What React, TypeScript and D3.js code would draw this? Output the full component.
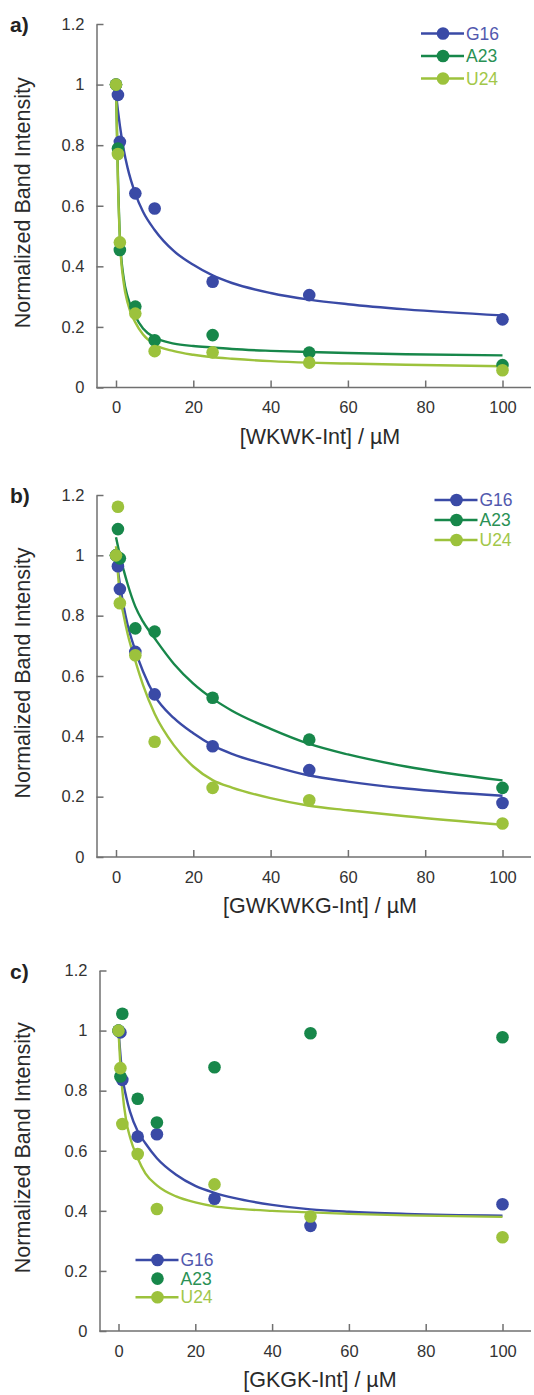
import React, { useEffect, useRef } from 'react';
import * as d3 from 'd3';

// peptide concentrations (µM) used for every titration
const concentrations = [0, 0.5, 1, 5, 10, 25, 50, 100];
const fitConcentrations = [0, 0.5, 1, 2, 3, 5, 7, 10, 15, 20, 25, 30, 40, 50, 60, 75, 100];

const seriesNames = ['G16', 'A23', 'U24'];
const xTickValues = [0, 20, 40, 60, 80, 100];
const yTickValues = [0, 0.2, 0.4, 0.6, 0.8, 1, 1.2];
const yTickLabels = ['0', '0.2', '0.4', '0.6', '0.8', '1', '1.2'];

// a) WKWK-Int
const aG16 = [1.0, 0.966, 0.811, 0.641, 0.591, 0.349, 0.305, 0.225];
const aA23 = [1.0, 0.789, 0.454, 0.267, 0.156, 0.173, 0.115, 0.074];
const aU24 = [1.0, 0.771, 0.479, 0.244, 0.12, 0.116, 0.082, 0.057];
const aG16Fit = [0.97, 0.915, 0.865, 0.785, 0.725, 0.64, 0.58, 0.52, 0.45, 0.405, 0.37, 0.345, 0.312, 0.29, 0.275, 0.258, 0.238];
const aA23Fit = [1.0, 0.7, 0.5, 0.36, 0.3, 0.235, 0.195, 0.165, 0.145, 0.137, 0.132, 0.127, 0.121, 0.117, 0.114, 0.11, 0.106];
const aU24Fit = [1.0, 0.68, 0.49, 0.345, 0.28, 0.215, 0.175, 0.142, 0.12, 0.108, 0.1, 0.095, 0.087, 0.082, 0.079, 0.075, 0.07];

// b) GWKWKG-Int
const bG16 = [1.0, 0.964, 0.888, 0.68, 0.539, 0.367, 0.288, 0.179];
const bA23 = [1.0, 1.087, 0.99, 0.758, 0.747, 0.528, 0.389, 0.229];
const bU24 = [1.0, 1.161, 0.841, 0.669, 0.382, 0.229, 0.188, 0.111];
const bG16Fit = [1.0, 0.95, 0.905, 0.83, 0.77, 0.685, 0.615, 0.535, 0.46, 0.41, 0.37, 0.342, 0.303, 0.27, 0.25, 0.227, 0.203];
const bA23Fit = [1.06, 1.03, 1.0, 0.95, 0.905, 0.83, 0.78, 0.725, 0.64, 0.575, 0.525, 0.485, 0.425, 0.375, 0.34, 0.3, 0.254];
const bU24Fit = [1.03, 0.94, 0.87, 0.8, 0.74, 0.65, 0.57, 0.475, 0.37, 0.3, 0.255, 0.23, 0.195, 0.17, 0.155, 0.135, 0.107];

// c) GKGK-Int (A23 has no fit)
const cG16 = [1.0, 0.994, 0.836, 0.647, 0.655, 0.44, 0.35, 0.422];
const cA23 = [1.0, 0.847, 1.056, 0.773, 0.694, 0.878, 0.991, 0.978];
const cU24 = [1.0, 0.875, 0.689, 0.589, 0.406, 0.488, 0.381, 0.312];
const cG16Fit = [1.0, 0.92, 0.85, 0.78, 0.73, 0.665, 0.625, 0.575, 0.52, 0.483, 0.46, 0.443, 0.42, 0.405, 0.397, 0.39, 0.384];
const cU24Fit = [1.0, 0.88, 0.8, 0.7, 0.645, 0.575, 0.525, 0.485, 0.448, 0.428, 0.415, 0.408, 0.4, 0.395, 0.39, 0.385, 0.38];

const COLORS = ['#3a4aa6', '#17874a', '#9cc23c'];
const LEGEND_TEXT = ['#5259ae', '#2a9155', '#a2c749'];
const FONT = "'Liberation Sans', Arial, sans-serif";

const panels = [
  {
    tag: 'a)', xLabel: '[WKWK-Int] / µM',
    top: 24, bottom: 387.5, axisX: 96.5, x0: 116, x1: 502.5,
    points: [aG16, aA23, aU24], fits: [aG16Fit, aA23Fit, aU24Fit],
    legend: { x: 443, y: 33.5, step: 22.5, lines: [true, true, true] },
  },
  {
    tag: 'b)', xLabel: '[GWKWKG-Int] / µM',
    top: 495, bottom: 857, axisX: 96.5, x0: 116, x1: 502.5,
    points: [bG16, bA23, bU24], fits: [bG16Fit, bA23Fit, bU24Fit],
    legend: { x: 456.5, y: 500, step: 20, lines: [true, true, true] },
  },
  {
    tag: 'c)', xLabel: '[GKGK-Int] / µM',
    top: 970.5, bottom: 1331, axisX: 99.5, x0: 118.5, x1: 502.5,
    points: [cG16, cA23, cU24], fits: [cG16Fit, null, cU24Fit],
    legend: { x: 157.5, y: 1260, step: 18.6, lines: [true, false, true] },
  },
];

const App = () => {
  const svgRef = useRef(null);

  useEffect(() => {
    document.body.style.margin = '0';
    const svg = d3.select(svgRef.current);
    svg.selectAll('*').remove();

    panels.forEach(p => {
      const x = d3.scaleLinear().domain([0, 100]).range([p.x0, p.x1]);
      const y = d3.scaleLinear().domain([0, 1.2]).range([p.bottom, p.top]);
      const g = svg.append('g');

      // y axis
      const yAxis = g.append('g')
        .attr('transform', `translate(${p.axisX},0)`)
        .call(d3.axisLeft(y).tickValues(yTickValues)
          .tickFormat((d, i) => yTickLabels[i])
          .tickSizeInner(-7).tickSizeOuter(0).tickPadding(12));
      yAxis.select('.domain').attr('stroke', '#707070').attr('stroke-width', 1.5);
      yAxis.selectAll('.tick line').attr('stroke', '#707070').attr('stroke-width', 1.5);
      yAxis.selectAll('.tick text')
        .attr('font-family', FONT).attr('font-size', 16.5).attr('fill', '#333');

      // x axis (line runs from the y axis to the page edge)
      g.append('line')
        .attr('x1', p.axisX).attr('x2', 531)
        .attr('y1', y(0)).attr('y2', y(0))
        .attr('stroke', '#707070').attr('stroke-width', 1.5);
      const xAxis = g.append('g')
        .attr('transform', `translate(0,${y(0)})`)
        .call(d3.axisBottom(x).tickValues(xTickValues)
          .tickSizeInner(-7).tickSizeOuter(0).tickPadding(14));
      xAxis.select('.domain').remove();
      xAxis.selectAll('.tick line').attr('stroke', '#707070').attr('stroke-width', 1.5);
      xAxis.selectAll('.tick text')
        .attr('font-family', FONT).attr('font-size', 16.5).attr('fill', '#333');

      // labels
      g.append('text')
        .attr('transform', `translate(22.5,${(p.top + p.bottom) / 2 - 3}) rotate(-90)`)
        .attr('text-anchor', 'middle').attr('dy', '0.35em')
        .attr('font-family', FONT).attr('font-size', 21.5).attr('fill', '#2a2a2a')
        .text('Normalized Band Intensity');
      g.append('text')
        .attr('x', 320).attr('y', p.bottom + 56)
        .attr('text-anchor', 'middle')
        .attr('font-family', FONT).attr('font-size', 21.5).attr('fill', '#2a2a2a')
        .text(p.xLabel);
      g.append('text')
        .attr('x', 10).attr('y', p.top + 8)
        .attr('font-family', FONT).attr('font-size', 21).attr('font-weight', 'bold').attr('fill', '#222')
        .text(p.tag);

      // fitted curves
      const line = d3.line()
        .x((d, i) => x(fitConcentrations[i]))
        .y(d => y(d))
        .curve(d3.curveMonotoneX);
      p.fits.forEach((f, k) => {
        if (!f) return;
        g.append('path')
          .attr('d', line(f))
          .attr('fill', 'none')
          .attr('stroke', COLORS[k])
          .attr('stroke-width', 2.4);
      });

      // data points
      p.points.forEach((vals, k) => {
        g.append('g').selectAll('circle')
          .data(vals)
          .enter().append('circle')
          .attr('cx', (d, i) => x(concentrations[i]))
          .attr('cy', d => y(d))
          .attr('r', 6.3)
          .attr('fill', COLORS[k]);
      });

      // legend
      const legend = g.append('g')
        .selectAll('g')
        .data(seriesNames)
        .enter().append('g')
        .attr('transform', (d, i) => `translate(${p.legend.x},${p.legend.y + i * p.legend.step})`);
      legend.filter((d, i) => p.legend.lines[i]).append('line')
        .attr('x1', -22).attr('x2', 21)
        .attr('stroke', (d) => COLORS[seriesNames.indexOf(d)])
        .attr('stroke-width', 2.4);
      legend.append('circle')
        .attr('r', 6.3)
        .attr('fill', (d, i) => COLORS[i]);
      legend.append('text')
        .attr('x', 23).attr('dy', '0.35em')
        .attr('font-family', FONT).attr('font-size', 17.5)
        .attr('fill', (d, i) => LEGEND_TEXT[i])
        .text(d => d);
    });
  }, []);

  return (
    <svg ref={svgRef} width={534} height={1395} style={{ display: 'block', background: '#fff' }}></svg>
  );
};

export default App;
